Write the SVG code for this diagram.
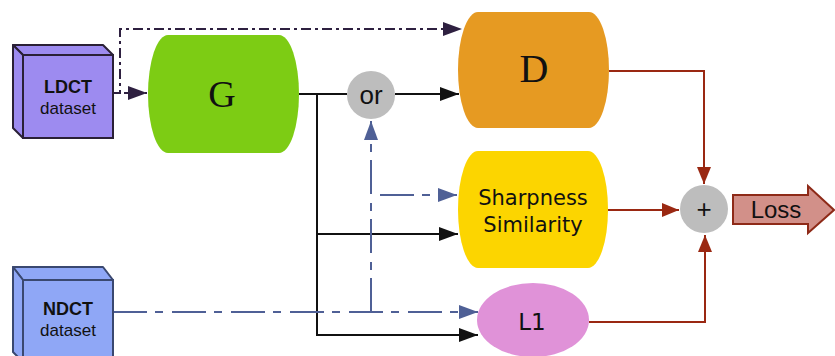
<svg xmlns="http://www.w3.org/2000/svg" width="835" height="356" viewBox="0 0 835 356">
  <style>
    .lbl { font-family: "Liberation Sans", Arial, sans-serif; fill: #111; text-anchor: middle; }
    .ser { font-family: "Liberation Serif", "Times New Roman", serif; fill: #111; text-anchor: middle; }
    .dv { font-family: "DejaVu Sans", Verdana, sans-serif; fill: #111; text-anchor: middle; }
    .blk { fill: none; stroke: #111; stroke-width: 2; }
    .pur { fill: none; stroke: #2e2040; stroke-width: 2; stroke-dasharray: 10 4 3 4; }
    .blu { fill: none; stroke: #4f6096; stroke-width: 2; stroke-dasharray: 34 8 8 9; }
    .red { fill: none; stroke: #9a2812; stroke-width: 2; }
  </style>
  <defs>
    <marker id="ahBlack" markerUnits="userSpaceOnUse" markerWidth="20" markerHeight="14" refX="19" refY="7" orient="auto">
      <path d="M0,0 L19,7 L0,14 Z" fill="#111"/>
    </marker>
    <marker id="ahPurple" markerUnits="userSpaceOnUse" markerWidth="20" markerHeight="14" refX="19" refY="7" orient="auto">
      <path d="M0,0 L19,7 L0,14 Z" fill="#2e2040"/>
    </marker>
    <marker id="ahBlue" markerUnits="userSpaceOnUse" markerWidth="20" markerHeight="14" refX="19" refY="7" orient="auto">
      <path d="M0,0 L19,7 L0,14 Z" fill="#4f6096"/>
    </marker>
    <marker id="ahRed" markerUnits="userSpaceOnUse" markerWidth="18" markerHeight="14" refX="17" refY="7" orient="auto">
      <path d="M0,0 L17,7 L0,14 Z" fill="#9a2812"/>
    </marker>
  </defs>

  <!-- connectors -->
  <g id="connectors">
    <!-- LDCT to G and to D -->
    <path class="pur" d="M113,93 H120 V29 H462" marker-end="url(#ahPurple)"/>
    <path class="pur" d="M124,93 H147" marker-end="url(#ahPurple)"/>
    <!-- G output -->
    <path class="blk" d="M299,94 H347"/>
    <path class="blk" d="M317,94 V335 H478" marker-end="url(#ahBlack)"/>
    <path class="blk" d="M317,234 H458" marker-end="url(#ahBlack)"/>
    <path class="blk" d="M395,94 H459" marker-end="url(#ahBlack)"/>
    <!-- NDCT -->
    <path class="blu" d="M113,312 H478" marker-end="url(#ahBlue)"/>
    <path class="blu" d="M371,312 V121" marker-end="url(#ahBlue)"/>
    <path class="blu" d="M380,195 H457" marker-end="url(#ahBlue)"/>
    <!-- losses into sum -->
    <path class="red" d="M609,71 H704 V184" marker-end="url(#ahRed)"/>
    <path class="red" d="M608,210 H679" marker-end="url(#ahRed)"/>
    <path class="red" d="M589,322 H705 V235" marker-end="url(#ahRed)"/>
  </g>

  <g id="ldct">
    <polygon points="13,45 103,45 113,55 23,55" fill="#9d8bf0" stroke="#2a2036" stroke-width="2" stroke-linejoin="round"/>
    <polygon points="13,45 23,55 23,138 13,128" fill="#9d8bf0" stroke="#2a2036" stroke-width="2" stroke-linejoin="round"/>
    <rect x="23" y="55" width="90" height="83" fill="#9d8bf0" stroke="#2a2036" stroke-width="2"/>
    <text class="lbl" x="68" y="93" font-size="18" font-weight="bold">LDCT</text>
    <text class="lbl" x="68" y="114" font-size="17">dataset</text>
  </g>

  <g id="ndct">
    <polygon points="13,267 103,267 113,280 23,280" fill="#8fa7f6" stroke="#3a4870" stroke-width="2" stroke-linejoin="round"/>
    <polygon points="13,267 23,280 23,362 13,352" fill="#8fa7f6" stroke="#3a4870" stroke-width="2" stroke-linejoin="round"/>
    <rect x="23" y="280" width="90" height="82" fill="#8fa7f6" stroke="#3a4870" stroke-width="2"/>
    <text class="lbl" x="68" y="315" font-size="18" font-weight="bold">NDCT</text>
    <text class="lbl" x="68" y="336" font-size="17">dataset</text>
  </g>

  <g id="G">
    <path d="M168,35 H279 A20,59 0 0 1 279,153 H168 A20,59 0 0 1 168,35 Z" fill="#7dcc14"/>
    <text class="ser" x="222" y="107" font-size="38">G</text>
  </g>

  <g id="or">
    <circle cx="371" cy="95" r="24" fill="#bdbdbd"/>
    <text class="lbl" x="371" y="104" font-size="26">or</text>
  </g>

  <g id="D">
    <path d="M478,12 H589 A20,58 0 0 1 589,128 H478 A20,58 0 0 1 478,12 Z" fill="#e69a22"/>
    <text class="ser" x="534" y="82" font-size="40">D</text>
  </g>

  <g id="sharpness">
    <path d="M478,151 H588 A20,58.5 0 0 1 588,268 H478 A20,58.5 0 0 1 478,151 Z" fill="#fcd500"/>
    <text class="dv" x="533" y="205" font-size="21">Sharpness</text>
    <text class="dv" x="533" y="232" font-size="21">Similarity</text>
  </g>

  <g id="L1">
    <ellipse cx="533" cy="320" rx="56" ry="37" fill="#e092d8"/>
    <text class="dv" x="532" y="330" font-size="23">L1</text>
  </g>

  <g id="sum">
    <circle cx="704" cy="209" r="24" fill="#bdbdbd"/>
    <text class="lbl" x="704" y="218" font-size="26">+</text>
  </g>

  <g id="loss">
    <path d="M733,195 H808 V186 L834,210 L808,233 V224 H733 Z" fill="#d29089" stroke="#8e2a18" stroke-width="2" stroke-linejoin="miter"/>
    <text class="lbl" x="776" y="218" font-size="24">Loss</text>
  </g>
</svg>
